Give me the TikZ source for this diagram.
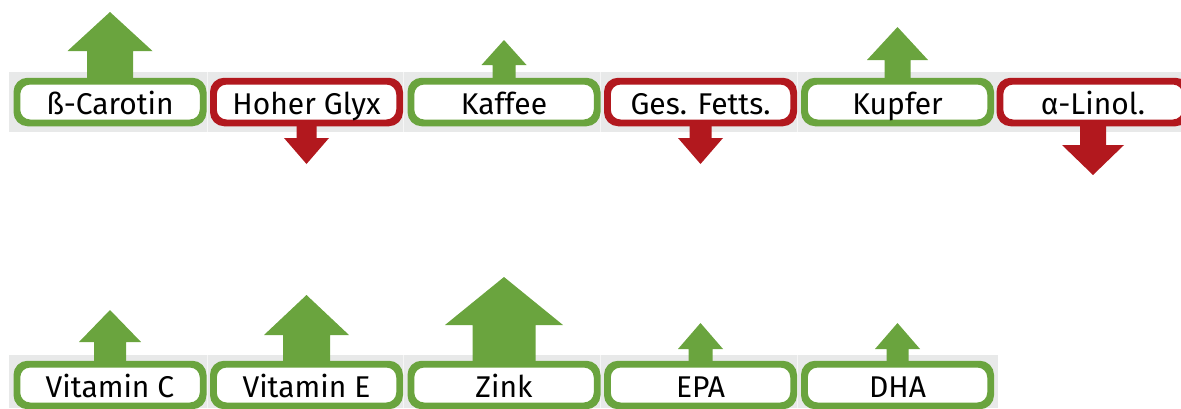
\documentclass[tikz,border=0pt]{standalone}
\usepackage{fontspec}
\setmainfont{Fira Sans}
\usetikzlibrary{calc}

\definecolor{upgreen}{RGB}{106,164,62}
\definecolor{downred}{RGB}{178,24,30}
\definecolor{stripgray}{RGB}{232,233,233}

% arrow above a box: #1 box, #2 shaft half-width, #3 head half-width,
% #4 head length, #5 height above the box edge
\newcommand\riseArrow[5]{%
  \fill[upgreen] ($(#1.north)+(-#2,2)$) -- ($(#1.north)+(-#2,{-(#5-#4)})$)
    -- ($(#1.north)+(-#3,{-(#5-#4)})$) -- ($(#1.north)+(0,{-#5})$)
    -- ($(#1.north)+(#3,{-(#5-#4)})$) -- ($(#1.north)+(#2,{-(#5-#4)})$)
    -- ($(#1.north)+(#2,2)$) -- cycle;}
% arrow below a box, same arguments
\newcommand\dropArrow[5]{%
  \fill[downred] ($(#1.south)+(-#2,-2)$) -- ($(#1.south)+(-#2,{#5-#4})$)
    -- ($(#1.south)+(-#3,{#5-#4})$) -- ($(#1.south)+(0,{#5})$)
    -- ($(#1.south)+(#3,{#5-#4})$) -- ($(#1.south)+(#2,{#5-#4})$)
    -- ($(#1.south)+(#2,-2)$) -- cycle;}

\tikzset{
  tag/.style={draw, fill=white, line width=4.5pt, rounded corners=12pt,
    minimum width=184pt, minimum height=39.5pt, inner sep=0pt,
    text height=25pt, text depth=0pt, font=\fontsize{30}{33}\selectfont},
  good/.style={tag, draw=upgreen},
  bad/.style={tag, draw=downred},
  cellgap/.style={draw=white!60!stripgray, line width=1pt},
  rim/.style={line width=4.5pt, rounded corners=12pt}
}

\begin{document}
\begin{tikzpicture}[x=1pt,y=-1pt]
  \useasboundingbox (0,0) rectangle (1181,408);
  \clip (0,0) rectangle (1181,408);

  % grey strips behind the two rows
  \fill[stripgray] (9,72) rectangle (1181,132);
  \fill[stripgray] (9,355) rectangle (998,408);
  \foreach \x in {207,403,600,797} {
    \draw[cellgap] (\x,72) -- (\x,132);
    \draw[cellgap] (\x,355) -- (\x,408);
  }

  % first row
  \node[good] (carotin) at (110,102)   {ß-Carotin};
  \node[bad]  (glyx)    at (306.5,102) {Hoher Glyx};
  \node[good] (kaffee)  at (504,102)   {Kaffee};
  \node[bad]  (fett)    at (700.5,102) {Ges. Fetts.};
  \node[good] (kupfer)  at (897.5,102) {Kupfer};
  \node[bad]  (linol)   at (1093,102)  {α-Linol.};

  % second row
  \node[good] (vitc)    at (110,385)   {Vitamin C};
  \node[good] (vite)    at (306.5,385) {Vitamin E};
  \node[good] (zink)    at (504,385)   {Zink};
  \node[good] (epa)     at (700.5,385) {EPA};
  \node[good] (dha)     at (897.5,385) {DHA};

  % up and down arrows
  \riseArrow{carotin}{23}{42.5}{39}{68}
  \dropArrow{glyx}{10}{22.5}{26}{40}
  \riseArrow{kaffee}{11.5}{22.5}{25}{40}
  \dropArrow{fett}{11}{22.5}{26}{40}
  \riseArrow{kupfer}{13}{30.5}{33}{53}
  \dropArrow{linol}{13}{31}{30}{51}
  \riseArrow{vitc}{16}{31}{32}{53}
  \riseArrow{vite}{23.5}{42.5}{40}{68}
  \riseArrow{zink}{31.5}{59}{48}{86}
  \riseArrow{epa}{12}{22.5}{26}{40}
  \riseArrow{dha}{11}{22.5}{26}{40}

  % redraw the borders over the arrow shafts
  \foreach \n/\c in {carotin/upgreen,glyx/downred,kaffee/upgreen,fett/downred,
                     kupfer/upgreen,linol/downred,vitc/upgreen,vite/upgreen,
                     zink/upgreen,epa/upgreen,dha/upgreen}
    \draw[rim, \c] (\n.north west) rectangle (\n.south east);
\end{tikzpicture}
\end{document}
